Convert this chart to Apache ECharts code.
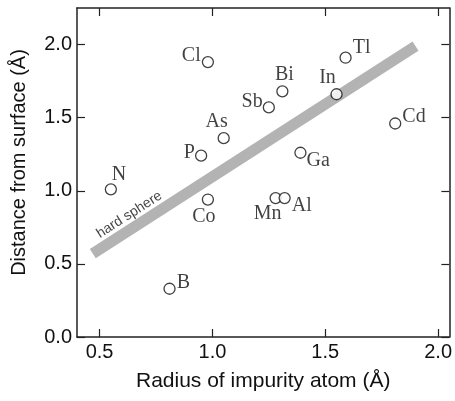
<!DOCTYPE html>
<html>
<head>
<meta charset="utf-8">
<script src="https://cdn.jsdelivr.net/npm/echarts@6/dist/echarts.min.js"></script>
<style>html,body{margin:0;padding:0;background:#fff}#c{width:455px;height:401px}</style>
</head>
<body>
<div id="c"></div>
<script>
// ---- data ----
var elements  = ['Cl','As','P','N','Co','B','Tl','Bi','Sb','In','Cd','Ga','Mn','Al'];
var radii     = [0.98,1.05,0.95,0.55,0.98,0.81,1.59,1.31,1.25,1.55,1.81,1.39,1.28,1.32];
var distances = [1.88,1.36,1.24,1.01,0.94,0.33,1.91,1.68,1.57,1.66,1.46,1.26,0.95,0.95];
var hardSphereX = [0.47, 1.90];
var hardSphereY = [0.57, 1.99];
var hardSphereLabelAt = [0.632, 0.836];
var xTicks = [0.5, 1.0, 1.5, 2.0];
var yTicks = [0.0, 0.5, 1.0, 1.5, 2.0];

// ---- label placement (styling) ----
var place = {
  Cl:{position:'left',offset:[1,-6]},
  As:{position:'top',offset:[-7,2]},
  P:{position:'left',offset:[2,-3]},
  N:{position:'top',offset:[8,4]},
  Co:{position:'bottom',offset:[-4,-1]},
  B:{position:'right',offset:[-1,-6]},
  Tl:{position:'right',offset:[-1,-10]},
  Bi:{position:'top',offset:[2,2]},
  Sb:{position:'left',offset:[2,-6]},
  In:{position:'top',offset:[-9,2]},
  Cd:{position:'right',offset:[-1,-7]},
  Ga:{position:'right',offset:[-2,8]},
  Mn:{position:'bottom',offset:[-8,-2]},
  Al:{position:'right',offset:[-1,8]}
};

var pts = elements.map(function(e,i){
  return {value:[radii[i],distances[i]], name:e, label:place[e]};
});
var band = hardSphereX.map(function(x,i){return [x,hardSphereY[i]];});

var axisCol = '#222';
var txtCol = '#111';
var sans = 'Liberation Sans, Arial, Helvetica, sans-serif';
var serif = 'Liberation Serif, Times New Roman, serif';
function fmt(v){return v.toFixed(1);}

var chart = echarts.init(document.getElementById('c'));
chart.setOption({
  animation:false,
  grid:{left:77,right:3,top:8,bottom:64},
  xAxis:[{
    type:'value',min:0.4,max:2.05,position:'bottom',
    name:'Radius of impurity atom (Å)',nameLocation:'middle',nameGap:34,
    nameTextStyle:{fontFamily:sans,fontSize:21,color:txtCol},
    axisLine:{onZero:false,lineStyle:{color:axisCol,width:1.5}},
    axisTick:{inside:true,length:8,lineStyle:{color:axisCol,width:1.2},customValues:xTicks},
    axisLabel:{customValues:xTicks,formatter:fmt,fontFamily:sans,fontSize:20,color:txtCol,margin:5},
    splitLine:{show:false}
  },{
    type:'value',min:0.4,max:2.05,position:'top',
    axisLine:{onZero:false,lineStyle:{color:axisCol,width:1.5}},
    axisTick:{inside:true,length:8,lineStyle:{color:axisCol,width:1.2},customValues:xTicks},
    axisLabel:{show:false},splitLine:{show:false}
  }],
  yAxis:[{
    type:'value',min:0,max:2.25,position:'left',
    name:'Distance from surface (Å)',nameLocation:'middle',nameGap:48,
    nameTextStyle:{fontFamily:sans,fontSize:20,color:txtCol,padding:[0,0,0,20]},
    axisLine:{onZero:false,lineStyle:{color:axisCol,width:1.5}},
    axisTick:{inside:true,length:8,lineStyle:{color:axisCol,width:1.2},customValues:yTicks},
    axisLabel:{customValues:yTicks,formatter:fmt,fontFamily:sans,fontSize:20,color:txtCol,margin:5},
    splitLine:{show:false}
  },{
    type:'value',min:0,max:2.25,position:'right',
    axisLine:{onZero:false,lineStyle:{color:axisCol,width:1.5}},
    axisTick:{inside:true,length:8,lineStyle:{color:axisCol,width:1.2},customValues:yTicks},
    axisLabel:{show:false},splitLine:{show:false}
  }],
  series:[{
    type:'line',data:band,symbol:'none',silent:true,z:1,
    lineStyle:{color:'#b3b3b3',width:11,cap:'butt'}
  },{
    type:'scatter',data:[hardSphereLabelAt],symbol:'circle',symbolSize:1,silent:true,z:2,
    itemStyle:{color:'rgba(0,0,0,0)'},
    label:{show:true,formatter:'hard sphere',position:'inside',rotate:32.6,
      fontFamily:sans,fontSize:14,color:txtCol}
  },{
    type:'scatter',data:pts,symbol:'circle',symbolSize:11,z:3,
    itemStyle:{color:'#fff',borderColor:'#111',borderWidth:1.3},
    label:{show:true,formatter:'{b}',fontFamily:serif,fontSize:20,color:txtCol,distance:2}
  }]
});
</script>
</body>
</html>
